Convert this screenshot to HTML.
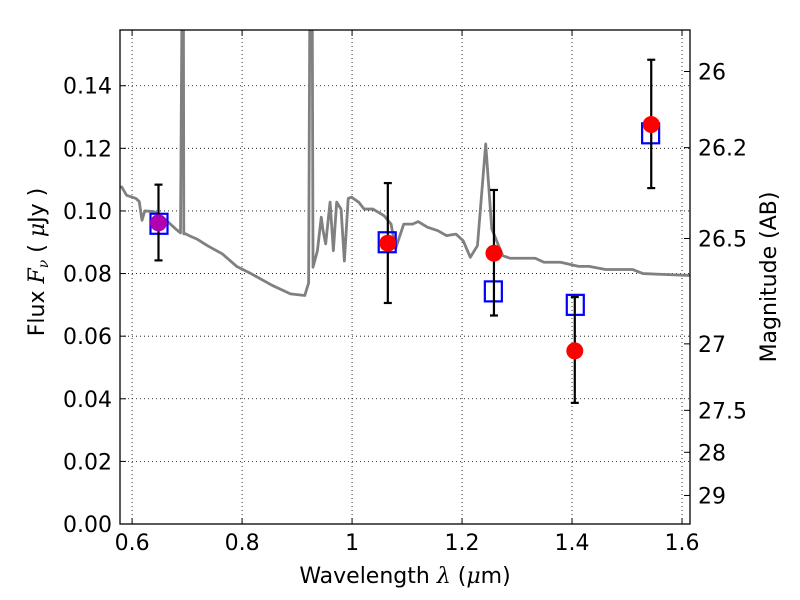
<!DOCTYPE html>
<html><head><meta charset="utf-8"><style>
body{margin:0;background:#fff;}
svg{display:block;font-family:"DejaVu Sans","Liberation Sans",sans-serif;}
</style></head><body>
<svg id="chart" width="800" height="600" viewBox="0 0 800 600"></svg>
<script>
const specW=[0.580,0.590,0.607,0.613,0.618,0.623,0.639,0.659,0.679,0.688,0.692,0.693,0.694,0.697,0.705,0.718,0.737,0.764,0.790,0.816,0.855,0.888,0.914,0.921,0.924,0.927,0.929,0.937,0.944,0.947,0.952,0.960,0.966,0.972,0.980,0.986,0.993,0.999,1.012,1.022,1.038,1.058,1.071,1.079,1.094,1.110,1.120,1.137,1.156,1.172,1.189,1.202,1.215,1.228,1.243,1.254,1.274,1.287,1.333,1.349,1.379,1.412,1.431,1.461,1.510,1.529,1.569,1.615];
const specF=[0.108,0.105,0.104,0.103,0.097,0.100,0.0998,0.0975,0.0943,0.093,0.2,0.2,0.0927,0.0927,0.092,0.091,0.0889,0.0863,0.0823,0.080,0.0762,0.0735,0.073,0.077,0.2,0.2,0.082,0.0873,0.098,0.094,0.0895,0.1028,0.0873,0.1028,0.1006,0.084,0.104,0.1044,0.1028,0.1006,0.1006,0.0985,0.0958,0.0879,0.0958,0.0958,0.0966,0.0948,0.0937,0.0921,0.0926,0.0905,0.0852,0.0889,0.1214,0.0943,0.0857,0.0849,0.0849,0.0836,0.0836,0.0823,0.0823,0.0813,0.0813,0.080,0.0797,0.0794];
const obsW=[0.648,1.065,1.258,1.405,1.544];
const obsF=[0.0962,0.0897,0.0865,0.0553,0.1276];
const errHi=[0.1084,0.1089,0.1067,0.0725,0.1483];
const errLo=[0.0842,0.0706,0.0666,0.0387,0.1073];
const modW=[0.648,1.063,1.256,1.405,1.542];
const modF=[0.0959,0.090,0.0743,0.070,0.1248];
const xTicks=[0.6,0.8,1.0,1.2,1.4,1.6];
const xTickLabels=["0.6","0.8","1","1.2","1.4","1.6"];
const yTicks=[0,0.02,0.04,0.06,0.08,0.10,0.12,0.14];
const yTickLabels=["0.00","0.02","0.04","0.06","0.08","0.10","0.12","0.14"];
const magTicks=[26,26.2,26.5,27,27.5,28,29];
const magLabels=["26","26.2","26.5","27","27.5","28","29"];

const L=120,R=690,T=30,B=524;
const xmin=0.578,xmax=1.6145,ymax=0.1578;
const X=w=>L+(w-xmin)/(xmax-xmin)*(R-L);
const Y=f=>B-f/ymax*(B-T);
const magToF=m=>Math.pow(10,(23.9-m)/2.5);
const NS="http://www.w3.org/2000/svg";
const svg=document.getElementById('chart');
function mk(tag,attrs,parent){const e=document.createElementNS(NS,tag);for(const k in attrs)e.setAttribute(k,attrs[k]);(parent||svg).appendChild(e);return e;}

const defs=mk('defs',{});
const cp=mk('clipPath',{id:'clip'},defs);mk('rect',{x:L,y:T,width:R-L,height:B-T},cp);

xTicks.forEach(v=>{const g=mk('line',{x1:X(v),x2:X(v),y1:T,y2:B,stroke:'#000','stroke-width':0.8,'stroke-dasharray':'1,3'});

});
yTicks.forEach(v=>{const g=mk('line',{x1:L,x2:R,y1:Y(v),y2:Y(v),stroke:'#000','stroke-width':0.8,'stroke-dasharray':'1,3'});

});

const sp=mk('polyline',{points:specW.map((w,i)=>X(w)+','+Y(specF[i])).join(' '),fill:'none',stroke:'#808080','stroke-width':2.8,'stroke-linejoin':'round','clip-path':'url(#clip)'});



modW.forEach((w,i)=>{const s=mk('rect',{x:X(w)-8,y:Y(modF[i])-10,width:17,height:20,fill:'none',stroke:'#0000ff','stroke-width':2.2});

});

obsW.forEach((w,i)=>{const g=mk('g',{stroke:'#000','stroke-width':2.2});


mk('line',{x1:X(w),x2:X(w),y1:Y(errHi[i]),y2:Y(errLo[i])},g);
mk('line',{x1:X(w)-4,x2:X(w)+4,y1:Y(errHi[i]),y2:Y(errHi[i])},g);
mk('line',{x1:X(w)-4,x2:X(w)+4,y1:Y(errLo[i]),y2:Y(errLo[i])},g);});

obsW.forEach((w,i)=>{const c=mk('circle',{cx:X(w),cy:Y(obsF[i]),r:8.5,fill:i===0?'#b000b0':'#ff0000'});

});

const fr=mk('rect',{x:L,y:T,width:R-L,height:B-T,fill:'none',stroke:'#000','stroke-width':1.3});



xTicks.forEach((v,i)=>{mk('line',{x1:X(v),x2:X(v),y1:B,y2:B-6,stroke:'#000'});mk('line',{x1:X(v),x2:X(v),y1:T,y2:T+6,stroke:'#000'});
const t=mk('text',{x:X(v),y:B+26,'text-anchor':'middle','font-size':22});t.textContent=xTickLabels[i];

});
yTicks.forEach((v,i)=>{mk('line',{x1:L,x2:L+6,y1:Y(v),y2:Y(v),stroke:'#000'});
const t=mk('text',{x:L-8,y:Y(v)+8,'text-anchor':'end','font-size':22});t.textContent=yTickLabels[i];

});
magTicks.forEach((m,i)=>{const y=Y(magToF(m));mk('line',{x1:R,x2:R-6,y1:y,y2:y,stroke:'#000'});
const t=mk('text',{x:R+8,y:y+8,'font-size':22});t.textContent=magLabels[i];

});
</script>
<svg style="position:absolute;left:0;top:0" width="800" height="600">
<text x="405" y="583" text-anchor="middle" font-size="22" font-family="DejaVu Sans,Liberation Sans,sans-serif">Wavelength  <tspan font-style="italic" font-family="DejaVu Serif,serif">λ</tspan> (<tspan font-style="italic" font-family="DejaVu Serif,serif">μ</tspan>m)</text>
<text transform="translate(44,262) rotate(-90)" text-anchor="middle" font-size="22" font-family="DejaVu Sans,Liberation Sans,sans-serif">Flux  <tspan font-style="italic" font-family="DejaVu Serif,serif">F<tspan font-size="14" dy="4">ν</tspan></tspan><tspan dy="-4">  (  </tspan><tspan font-style="italic" font-family="DejaVu Serif,serif">μ</tspan>Jy )</text>
<text transform="translate(776,277) rotate(-90)" text-anchor="middle" font-size="22" font-family="DejaVu Sans,Liberation Sans,sans-serif">Magnitude (AB)</text>
</svg>
</body></html>
